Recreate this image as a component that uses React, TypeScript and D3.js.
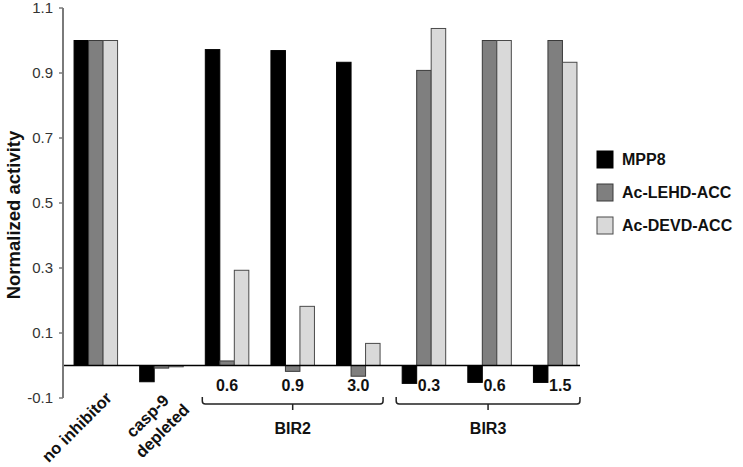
import React from 'react';
import * as d3 from 'd3';

const groups = ['no inhibitor', 'casp-9 depleted', 'BIR2 0.6', 'BIR2 0.9', 'BIR2 3.0', 'BIR3 0.3', 'BIR3 0.6', 'BIR3 1.5'];
const concLabels = ['', '', '0.6', '0.9', '3.0', '0.3', '0.6', '1.5'];
const seriesNames = ['MPP8', 'Ac-LEHD-ACC', 'Ac-DEVD-ACC'];
const seriesColors = ['#000000', '#7f7f7f', '#d9d9d9'];
const seriesStroke = ['#000000', '#3a3a3a', '#4a4a4a'];

const mpp8 = [1.0, -0.05, 0.972, 0.969, 0.933, -0.055, -0.052, -0.052];
const lehd = [1.0, -0.008, 0.014, -0.018, -0.033, 0.908, 1.0, 1.0];
const devd = [1.0, -0.004, 0.293, 0.182, 0.068, 1.037, 1.0, 0.933];
const series = [mpp8, lehd, devd];

const yTicks = [-0.1, 0.1, 0.3, 0.5, 0.7, 0.9, 1.1];

const brackets = [
  { label: 'BIR2', from: 2, to: 4 },
  { label: 'BIR3', from: 5, to: 7 },
];

const W = 743;
const H = 467;
const axisX = 63;
const font = "'Liberation Sans', Arial, Helvetica, sans-serif";

const App = () => {
  const y = d3.scaleLinear().domain([-0.1, 1.1]).range([398, 8]);
  const x0 = d3.scaleBand<number>()
    .domain(d3.range(groups.length))
    .range([63, 588])
    .paddingInner(0.337)
    .paddingOuter(0.337 / 2);
  const x1 = d3.scaleBand<number>()
    .domain(d3.range(seriesNames.length))
    .range([0, x0.bandwidth()]);

  const y0 = y(0);

  return (
    <svg width={W} height={H} style={{ position: 'absolute', left: 0, top: 0, background: '#fff' }} fontFamily={font}>
      {/* bars */}
      {series.map((vals, s) => (
        <g key={s}>
          {vals.map((v, i) => {
            const bx = (x0(i) as number) + (x1(s) as number);
            const top = Math.min(y(v), y0);
            const h = Math.max(Math.abs(y(v) - y0), 1);
            return (
              <rect
                key={i}
                x={bx}
                y={top}
                width={x1.bandwidth()}
                height={h}
                fill={seriesColors[s]}
                stroke={seriesStroke[s]}
                strokeWidth={1}
              />
            );
          })}
        </g>
      ))}

      {/* zero line */}
      <line x1={axisX} x2={580} y1={y0} y2={y0} stroke="#000" strokeWidth={1.5} />

      {/* y axis */}
      <line x1={axisX} x2={axisX} y1={y(1.1)} y2={y(-0.1)} stroke="#7a7a7a" strokeWidth={2} />
      {yTicks.map((t) => (
        <g key={t}>
          <line x1={axisX - 4} x2={axisX} y1={y(t)} y2={y(t)} stroke="#7a7a7a" strokeWidth={1.5} />
          <text x={53} y={y(t)} dy="0.35em" textAnchor="end" fontSize={15} fill="#333">
            {t.toFixed(1)}
          </text>
        </g>
      ))}
      <text
        transform={`translate(20, 215) rotate(-90)`}
        textAnchor="middle"
        fontSize={18.5}
        fontWeight="bold"
        fill="#111"
      >
        Normalized activity
      </text>

      {/* rotated group labels */}
      <text
        transform={`translate(${(x0(0) as number) + x0.bandwidth() / 2 + 17}, 399) rotate(-45)`}
        textAnchor="end"
        fontSize={16.5}
        fontWeight="bold"
        fill="#111"
      >
        no inhibitor
      </text>
      <text
        transform={`translate(${(x0(1) as number) + x0.bandwidth() / 2 - 10}, 420) rotate(-45)`}
        textAnchor="middle"
        fontSize={16.5}
        fontWeight="bold"
        fill="#111"
      >
        <tspan x={0} dy={0}>casp-9</tspan>
        <tspan x={0} dy={21}>depleted</tspan>
      </text>

      {/* concentration labels */}
      {concLabels.map((c, i) =>
        c ? (
          <text
            key={i}
            x={(x0(i) as number) + x0.bandwidth() / 2 + (i >= 5 ? 5 : 0)}
            y={391}
            textAnchor="middle"
            fontSize={16}
            fontWeight="bold"
            fill="#111"
          >
            {c}
          </text>
        ) : null
      )}

      {/* brackets */}
      {brackets.map((b) => {
        const xa = (x0(b.from) as number) - (b.from >= 5 ? 6 : 3);
        const xb = (x0(b.to) as number) + x0.bandwidth() + 3;
        const xm = (xa + xb) / 2;
        const yt = 397;
        const yb = 404;
        const r = 3;
        const d = `M${xa},${yt} L${xa},${yb - r} Q${xa},${yb} ${xa + r},${yb} L${xb - r},${yb} Q${xb},${yb} ${xb},${yb - r} L${xb},${yt} M${xm},${yb} L${xm},${yb + 6}`;
        return (
          <g key={b.label}>
            <path d={d} fill="none" stroke="#222" strokeWidth={1.5} />
            <text x={xm} y={434} textAnchor="middle" fontSize={16} fontWeight="bold" fill="#111">
              {b.label}
            </text>
          </g>
        );
      })}

      {/* legend */}
      {seriesNames.map((n, s) => (
        <g key={n} transform={`translate(597, ${151 + s * 33})`}>
          <rect x={0} y={0} width={16} height={17} fill={seriesColors[s]} stroke={seriesStroke[s]} strokeWidth={1} />
          <text x={25} y={8.5} dy="0.35em" fontSize={16} fontWeight="bold" fill="#111">
            {n}
          </text>
        </g>
      ))}
    </svg>
  );
};

export default App;
